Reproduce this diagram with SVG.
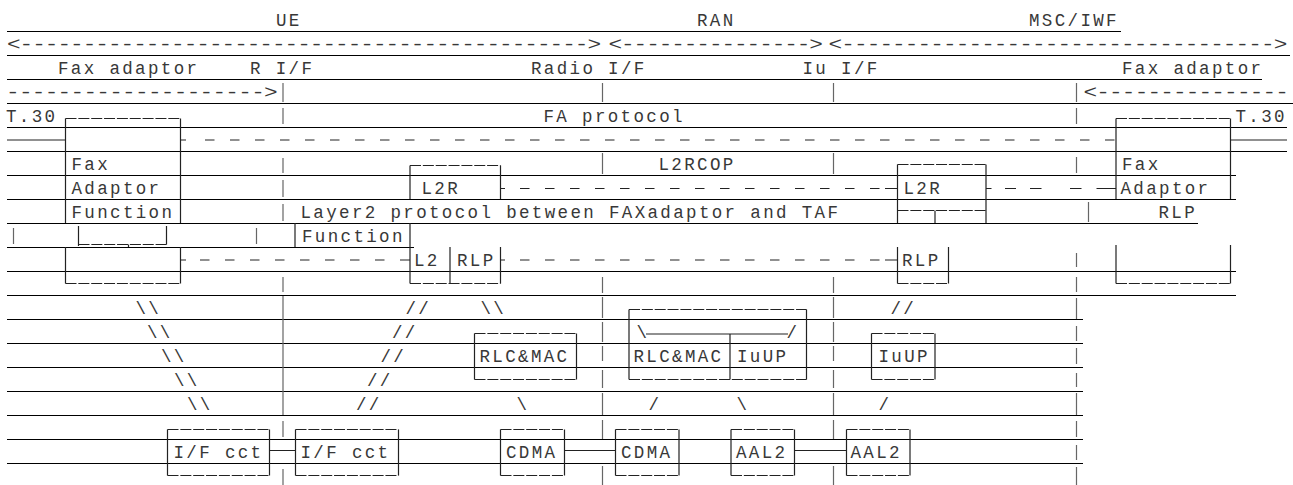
<svg xmlns="http://www.w3.org/2000/svg" width="1293" height="485" viewBox="0 0 1293 485">
<style>
.t{font-family:"Liberation Mono","Courier New",monospace;font-size:17.5px;letter-spacing:2.35px;fill:#383838}
.a{font-family:"Liberation Mono","Courier New",monospace;font-size:17.5px;fill:#383838}
.rule{stroke:#000;stroke-width:1;fill:none}
.bar{stroke:#666;stroke-width:1.2;fill:none}
.box{stroke:#222;stroke-width:1.2;fill:none}
.edge{stroke:#222;stroke-width:1.2;fill:none;stroke-dasharray:11 1.85}
.dl{stroke:#222;stroke-width:1.2;fill:none;stroke-dasharray:9.5 15.5}
</style>
<rect width="1293" height="485" fill="#fff"/>
<g id="rules">
<path class="rule" d="M7 31.5H1121M7 55.5H1290M7 79.5H1262M7 103.5H1293M7 127.5H1287M7 151.5H1287M7 175.5H1236M7 199.5H1236M7 223.5H1198M7 247.5H414M7 271.5H1236M7 295.5H1236M7 319.5H1083M7 343.5H1083M7 367.5H1083M7 391.5H1083M7 415.5H1083M7 439.5H1083M7 463.5H1083"/>
</g>
<g id="headers">
<text class="t" x="276" y="25.8">UE</text>
<text class="t" x="697" y="25.8">RAN</text>
<text class="t" x="1029" y="25.8">MSC/IWF</text>
<text class="a" transform="translate(7 49.8) scale(1.3 1)" textLength="457" lengthAdjust="spacing">&lt;---------------------------------------------&gt;</text>
<text class="a" transform="translate(608.5 49.8) scale(1.3 1)" textLength="165" lengthAdjust="spacing">&lt;---------------&gt;</text>
<text class="a" transform="translate(828.5 49.8) scale(1.3 1)" textLength="353" lengthAdjust="spacing">&lt;----------------------------------&gt;</text>
<text class="t" x="58" y="73.8">Fax adaptor</text>
<text class="t" x="250" y="73.8">R I/F</text>
<text class="t" x="531" y="73.8">Radio I/F</text>
<text class="t" x="802.5" y="73.8">Iu I/F</text>
<text class="t" x="1122" y="73.8">Fax adaptor</text>
<text class="a" transform="translate(6 97.8) scale(1.3 1)" textLength="209" lengthAdjust="spacing">--------------------&gt;</text>
<text class="a" transform="translate(1083.5 97.8) scale(1.3 1)" textLength="158" lengthAdjust="spacing">&lt;---------------</text>
</g>
<g id="bars">
<path class="bar" d="M283 83V102M283 108V124M283 158V173M283 180V197M283 204V221M283 277V292M283 296V415M283 421V437M283 469V485"/>
<path class="bar" d="M602.5 83V102M602.5 153V174M602.5 277V293M602.5 297V318M602.5 322V342M602.5 346V361M602.5 370V388M602.5 393V415M602.5 420V439M602.5 466V485"/>
<path class="bar" d="M833.5 83V102M833.5 153V174M833.5 277V293M833.5 297V318M833.5 322V342M833.5 346V361M833.5 370V388M833.5 393V415M833.5 420V439M833.5 466V485"/>
<path class="bar" d="M1076.5 83V102M1076.5 108V124M1076.5 157V173M1076.5 253V267M1076.5 277V292M1076.5 298V319M1076.5 326V341M1076.5 348V364M1076.5 373V387M1076.5 393V415M1076.5 421V437M1076.5 445V460M1076.5 467V485"/>
<path class="bar" d="M1088.5 202V222M13.5 228V244M256.5 228V244"/>
</g>
<g id="t30-ue"><text class="t" x="6" y="121.8">T.30</text></g>
<g id="t30-msc"><text class="t" x="1235.5" y="121.8">T.30</text></g>
<g id="fa-ue-top">
<path class="box" d="M65.5 118.5V223M180.5 118.5V223"/>
<path class="edge" d="M65.5 118.5H180.5"/>
<text class="t" x="71.5" y="169.8">Fax</text>
<text class="t" x="71.5" y="193.8">Adaptor</text>
<text class="t" x="71.5" y="217.8">Function</text>
</g>
<g id="fa-ue-bottom">
<path class="box" d="M78.5 226V246M166.5 226V244.5M128.5 244.5V247M65.5 247V283.5M180.5 247V283.5"/>
<path class="edge" d="M78.5 244.5H166.5M65.5 283.5H180.5"/>
</g>
<g id="l2r-ue">
<path class="box" d="M410 165.5V199M500.5 165.5V199"/>
<path class="edge" d="M410 165.5H500.5"/>
<text class="t" x="421.5" y="193.8">L2R</text>
</g>
<g id="function-ue">
<path class="box" d="M295 223V247M410 223V247"/>
<text class="t" x="302" y="241.8">Function</text>
</g>
<g id="l2-rlp-ue">
<path class="box" d="M410 247V283.5M450 247V283.5M500.5 247V283.5"/>
<path class="edge" d="M410 283.5H500.5"/>
<text class="t" x="414" y="265.8">L2</text>
<text class="t" x="457" y="265.8">RLP</text>
</g>
<g id="l2r-msc">
<path class="box" d="M897.5 164.5V223M986 164.5V223M935 210.5V223"/>
<path class="edge" d="M897.5 164.5H986M897.5 210.5H986"/>
<text class="t" x="903.5" y="193.8">L2R</text>
</g>
<g id="rlp-msc">
<path class="box" d="M897.5 247V283.5M948.5 247V283.5"/>
<path class="edge" d="M897.5 283.5H948.5"/>
<text class="t" x="902" y="265.8">RLP</text>
</g>
<g id="fa-msc-top">
<path class="box" d="M1116 118.5V199M1230.5 118.5V199"/>
<path class="edge" d="M1116 118.5H1230.5"/>
<text class="t" x="1122" y="169.8">Fax</text>
<text class="t" x="1120.5" y="193.8">Adaptor</text>
</g>
<g id="rlp-label-msc"><text class="t" x="1158.5" y="217.8">RLP</text></g>
<g id="fa-msc-bottom">
<path class="box" d="M1116 245V283.5M1230.5 245V283.5"/>
<path class="edge" d="M1116 283.5H1230.5"/>
</g>
<g id="rlcmac-ue">
<path class="box" d="M474.5 333.5V379.5M576.5 333.5V379.5"/>
<path class="edge" d="M474.5 333.5H576.5M474.5 379.5H576.5"/>
<text class="t" x="479.5" y="361.8">RLC&amp;MAC</text>
</g>
<g id="rlcmac-iuup-ran">
<path class="box" d="M629 309.5V379.5M806.5 309.5V379.5M730 334V379.5"/>
<path class="edge" d="M629 309.5H806.5M629 379.5H806.5"/>
<path class="box" d="M646 334H788"/>
<text class="t" x="636.5" y="337.8">\</text>
<text class="t" x="786.5" y="337.8">/</text>
<text class="t" x="633.5" y="361.8">RLC&amp;MAC</text>
<text class="t" x="737" y="361.8">IuUP</text>
</g>
<g id="iuup-msc">
<path class="box" d="M871.5 333.5V379.5M935 333.5V379.5"/>
<path class="edge" d="M871.5 333.5H935M871.5 379.5H935"/>
<text class="t" x="878.5" y="361.8">IuUP</text>
</g>
<g id="ifcct-1">
<path class="box" d="M167.5 429.5V475.5M269.5 429.5V475.5"/>
<path class="edge" d="M167.5 429.5H269.5M167.5 475.5H269.5"/>
<text class="t" x="173.5" y="457.8">I/F cct</text>
</g>
<g id="ifcct-2">
<path class="box" d="M295.5 429.5V475.5M398.5 429.5V475.5"/>
<path class="edge" d="M295.5 429.5H398.5M295.5 475.5H398.5"/>
<text class="t" x="300.5" y="457.8">I/F cct</text>
</g>
<g id="cdma-1">
<path class="box" d="M500.5 429.5V475.5M564.5 429.5V475.5"/>
<path class="edge" d="M500.5 429.5H564.5M500.5 475.5H564.5"/>
<text class="t" x="506" y="457.8">CDMA</text>
</g>
<g id="cdma-2">
<path class="box" d="M615.5 429.5V475.5M679 429.5V475.5"/>
<path class="edge" d="M615.5 429.5H679M615.5 475.5H679"/>
<text class="t" x="621" y="457.8">CDMA</text>
</g>
<g id="aal2-1">
<path class="box" d="M731 429.5V475.5M794.5 429.5V475.5"/>
<path class="edge" d="M731 429.5H794.5M731 475.5H794.5"/>
<text class="t" x="736" y="457.8">AAL2</text>
</g>
<g id="aal2-2">
<path class="box" d="M846.5 429.5V475.5M910 429.5V475.5"/>
<path class="edge" d="M846.5 429.5H910M846.5 475.5H910"/>
<text class="t" x="850.5" y="457.8">AAL2</text>
</g>
<g id="connectors">
<path class="box" d="M7 140H65.5M1230.5 140H1287M180.5 140H186"/>
<path class="dl" d="M205 140H1114.5"/>
<text class="t" x="543.5" y="121.8">FA protocol</text>
<path class="box" d="M500.5 188.5H505M885 188.5H897.5M986 188.5H991.5M1005 188.5H1016M1030 188.5H1041.5M1070 188.5H1081.5M1096.5 188.5H1116"/>
<path class="dl" d="M520 188.5H880"/>
<text class="t" x="658.5" y="169.8">L2RCOP</text>
<text class="t" x="300.5" y="217.8">Layer2 protocol between FAXadaptor and TAF</text>
<path class="box" d="M180.5 260H186M400 260H410M500.5 260H505M885 260H897.5"/>
<path class="dl" d="M200 260H395M520 260H880"/>
<path class="box" d="M269.5 450.5H295.5M564.5 450.5H615.5M794.5 450.5H846.5"/>
<text class="t" x="135.5" y="313.8">\\</text>
<text class="t" x="405.5" y="313.8">//</text>
<text class="t" x="480.5" y="313.8">\\</text>
<text class="t" x="890.5" y="313.8">//</text>
<text class="t" x="147" y="337.8">\\</text>
<text class="t" x="392" y="337.8">//</text>
<text class="t" x="161" y="361.8">\\</text>
<text class="t" x="380.5" y="361.8">//</text>
<text class="t" x="174" y="385.8">\\</text>
<text class="t" x="367" y="385.8">//</text>
<text class="t" x="187" y="409.8">\\</text>
<text class="t" x="356" y="409.8">//</text>
<text class="t" x="516.5" y="409.8">\</text>
<text class="t" x="648.5" y="409.8">/</text>
<text class="t" x="736.5" y="409.8">\</text>
<text class="t" x="878.5" y="409.8">/</text>
</g>
</svg>
